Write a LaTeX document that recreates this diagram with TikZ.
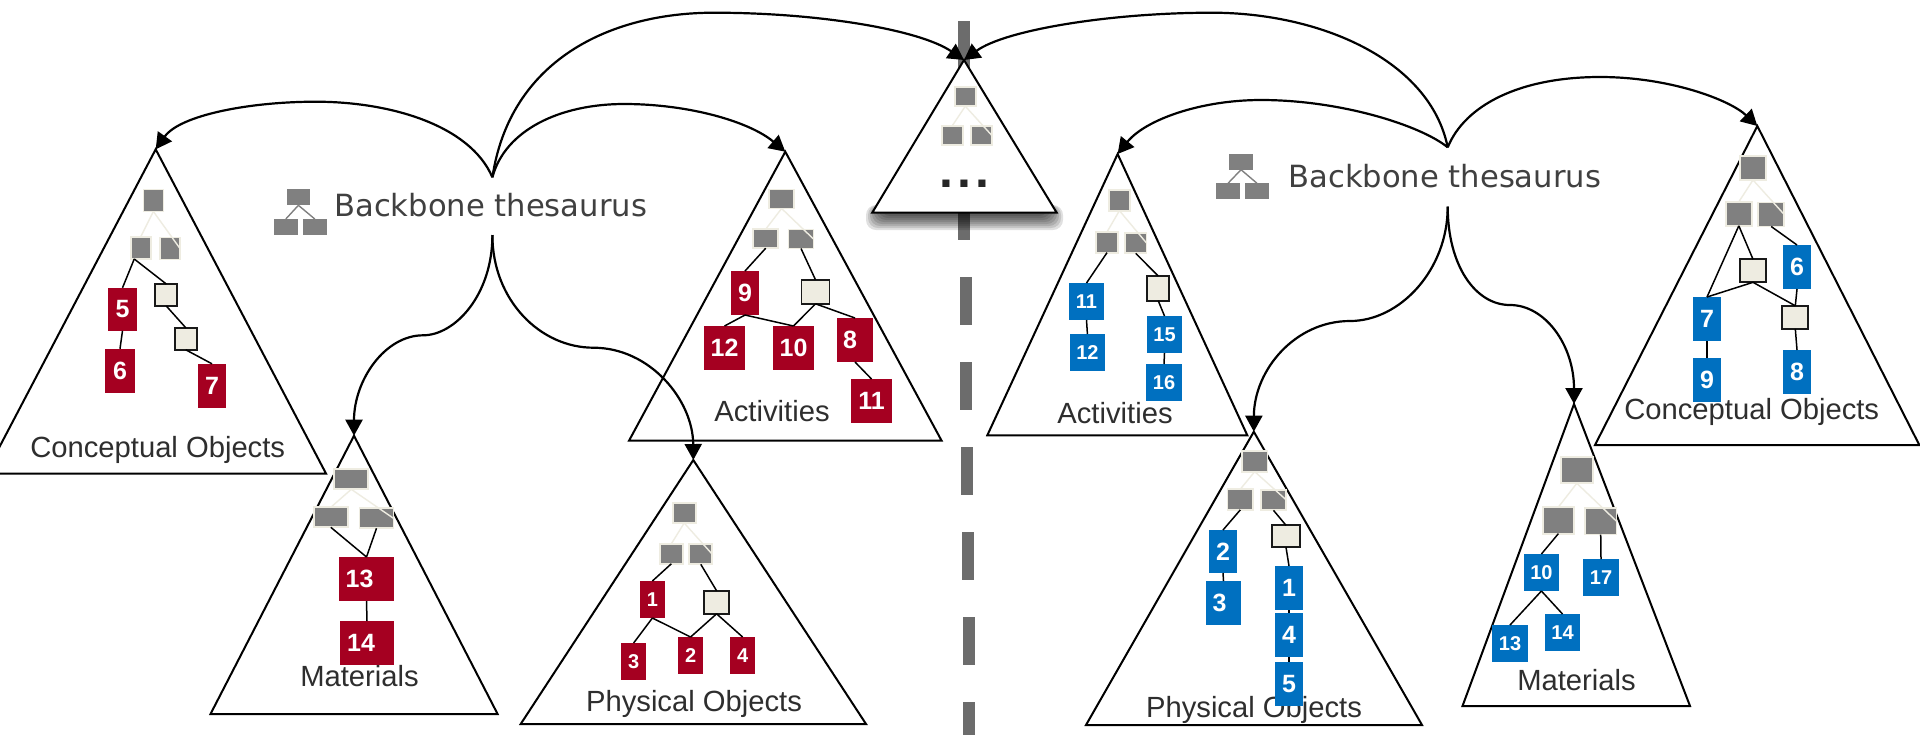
\documentclass[tikz,border=0pt]{standalone}
\usepackage{fontspec}
\setmainfont{Liberation Sans}
\newfontfamily\bbfont{DejaVu Sans}
\usetikzlibrary{arrows.meta}
\definecolor{redbox}{HTML}{A50021}
\definecolor{bluebox}{HTML}{0070C0}
\definecolor{paleline}{HTML}{EEECE1}
\definecolor{dashgray}{HTML}{6C6C6C}
\tikzset{
  sz/.style 2 args = {minimum width = #1*.5pt, minimum height = #2*.5pt},
  graybox/.style = {fill = gray, draw = paleline, line width = .9pt, shape = rectangle, inner sep = 0pt, outer sep = 0pt},
  palebox/.style = {fill = paleline, draw = black!90, line width = .9pt, shape = rectangle, inner sep = 0pt, outer sep = 0pt},
  redcell/.style = {fill = redbox, text = white, shape = rectangle, inner sep = 0pt, outer sep = 0pt, font = \fontsize{12.5}{14}\selectfont\bfseries},
  redsmall/.style = {redcell, font = \fontsize{10}{12}\selectfont\bfseries},
  bluecell/.style = {redcell, fill = bluebox},
  bluesmall/.style = {redsmall, fill = bluebox},
  tri/.style = {draw = black, fill = white, line width = 1pt, line join = miter},
  pale/.style = {draw = paleline, line width = .7pt},
  link/.style = {draw = black, line width = .75pt},
  arc/.style = {draw = black, line width = 1.1pt, -{Triangle[length = 8pt, width = 8.5pt]}},
  lab/.style = {anchor = base, inner sep = 0pt, text = black!82, font = \fontsize{14.6}{16}\selectfont},
  bb/.style = {anchor = base west, inner sep = 0pt, text = black!75, font = \fontsize{15.3}{17}\selectfont\bbfont},
  iconbox/.style = {fill = gray, shape = rectangle, inner sep = 0pt, outer sep = 0pt, sz = {23.5}{16}},
  iconline/.style = {draw = gray, line width = .7pt}
}
\begin{document}
\begin{tikzpicture}[x = .5pt, y = -.5pt]
\useasboundingbox (0,0) rectangle (1920,735);
\fill[dashgray] (958,21) rectangle (970,240);
\foreach \y in {277,362,447,532,617,702} {
  \fill[dashgray] (957.5+.0082*\y,\y) rectangle (969.5+.0082*\y,{min(\y+48,735)});
}
\foreach \b in {8,6,...,-6} {
  \fill[black, opacity = .12, rounded corners = 5pt] (874-\b,205) rectangle (1055+\b,222+\b);
}
\coordinate (cltop) at (155.7,149.3);
\coordinate (altop) at (785.3,151.7);
\coordinate (mltop) at (354,435.7);
\coordinate (pltop) at (693.3,460);
\coordinate (midtop) at (964,60);
\coordinate (artop) at (1117.6,154);
\coordinate (prtop) at (1253.8,431.7);
\coordinate (mrtop) at (1574,404);
\coordinate (crtop) at (1757.3,126);
\draw[tri] (cltop) -- (-14.5,473.5) -- (326,473.5) -- cycle;
\draw[tri] (altop) -- (629,440.7) -- (941.6,440.7) -- cycle;
\draw[tri] (mltop) -- (210.5,714) -- (497.6,714) -- cycle;
\draw[tri] (pltop) -- (520.7,724) -- (866,724) -- cycle;
\draw[tri] (midtop) -- (872.2,212.7) -- (1056.7,212.7) -- cycle;
\draw[tri] (artop) -- (987.3,435.3) -- (1247.3,435.3) -- cycle;
\draw[tri] (prtop) -- (1086,725) -- (1422,725) -- cycle;
\draw[tri] (mrtop) -- (1462.5,706) -- (1690,706) -- cycle;
\draw[tri] (crtop) -- (1595,445) -- (1919.3,445) -- cycle;

\node[lab] (cllab) at (157.7,457.3) {Conceptual Objects};
\node[lab] (allab) at (772,421.7) {Activities};
\node[lab] (mllab) at (359.5,686) {Materials};
\node[lab] (pllab) at (694,711) {Physical Objects};
\node[lab] (arlab) at (1115,423.3) {Activities};
\node[lab] (prlab) at (1254,717.7) {Physical Objects};
\node[lab] (mrlab) at (1576.5,690.7) {Materials};
\node[lab] (crlab) at (1751.7,419.3) {Conceptual Objects};
\node[anchor = base, inner sep = 0pt, text = black!85, font = \fontsize{25}{25}\selectfont\bfseries] (dots) at (964.4,187.7) {.\kern2.2pt.\kern2.2pt.};

\node[graybox, sz = {20}{22}] (cl0) at (153.4,200.5) {};
\node[graybox, sz = {20}{22}] (cl1) at (140.6,248) {};
\node[graybox, sz = {20}{22}] (cl2) at (170,248.5) {};
\node[redcell, sz = {29}{43}] (cl5) at (122.5,309.3) {5};
\node[redcell, sz = {30}{44}] (cl6) at (120,370.8) {6};
\node[redcell, sz = {28}{44}] (cl7) at (212,385.8) {7};
\node[palebox, sz = {22}{22}] (cla) at (166.3,295) {};
\node[palebox, sz = {22}{22}] (clb) at (185.8,338.8) {};
\draw[pale] (cl0.south) -- (cl1.north);
\draw[pale] (cl0.south) -- (cl2.east);
\draw[link] (cl1.240) -- (cl5.north);
\draw[link] (cl1.240) -- (cla.north);
\draw[link] (cl5.south) -- (cl6.north);
\draw[link] (cla.south) -- (clb.north);
\draw[link] (clb.south) -- (cl7.north);

\node[graybox, sz = {25}{19}] (al0) at (781.6,199) {};
\node[graybox, sz = {25}{19}] (al1) at (765.7,238.7) {};
\node[graybox, sz = {25}{19}] (al2) at (801,239) {};
\node[redcell, sz = {28}{44}] (al9) at (745,293) {9};
\node[palebox, sz = {28}{24}] (ala) at (815.5,291.8) {};
\node[redcell, sz = {41}{44}] (al12) at (724.5,348) {12};
\node[redcell, sz = {41}{44}] (al10) at (793.5,348) {10};
\node[redcell, sz = {36}{44}] (al8) at (855,340) {8\kern5pt};
\node[redcell, sz = {41}{44}] (al11) at (871.5,401) {11};
\draw[pale] (al0.south) -- (al1.north);
\draw[pale] (al0.south) -- (al2.east);
\draw[link] (al1.south) -- (al9.north);
\draw[link] (al2.south) -- (ala.north);
\draw[link] (al9.south) -- (al12.north);
\draw[link] (al9.south) -- (al10.north);
\draw[link] (ala.south) -- (al10.north);
\draw[link] (ala.south) -- (al8.north);
\draw[link] (al8.south) -- (al11.north);

\node[graybox, sz = {34}{20}] (ml0) at (351.3,479.3) {};
\node[graybox, sz = {34}{20}] (ml1) at (330.8,517.3) {};
\node[graybox, sz = {34}{20}] (ml2) at (376.5,518.3) {};
\node[redcell, sz = {55}{44}] (ml13) at (366.5,579) {13\kern7pt};
\node[redcell, sz = {54}{44}] (ml14) at (367,643) {14\kern6pt};
\draw[pale] (ml0.south) -- (ml1.north);
\draw[pale] (ml0.south) -- (ml2.east);
\draw[link] (ml1.south) -- (ml13.north);
\draw[link] (ml2.south) -- (ml13.north);
\draw[link] (ml13.south) -- (ml14.north);

\node[graybox, sz = {23}{20}] (pl0) at (684.2,513) {};
\node[graybox, sz = {23}{20}] (pl1) at (671.4,553.7) {};
\node[graybox, sz = {23}{20}] (pl2) at (700.8,554.3) {};
\node[redsmall, sz = {25}{37}] (pl1n) at (652.4,599.5) {1};
\node[palebox, sz = {25}{23}] (pla) at (716.6,602.3) {};
\node[redsmall, sz = {25}{37}] (pl3) at (633.6,661.5) {3};
\node[redsmall, sz = {25}{37}] (pl2n) at (690.6,655.5) {2};
\node[redsmall, sz = {25}{37}] (pl4) at (742.6,655.5) {4};
\draw[pale] (pl0.south) -- (pl1.north);
\draw[pale] (pl0.south) -- (pl2.east);
\draw[link] (pl1.south) -- (pl1n.north);
\draw[link] (pl2.south) -- (pla.north);
\draw[link] (pl1n.south) -- (pl3.north);
\draw[link] (pl1n.south) -- (pl2n.north);
\draw[link] (pla.south) -- (pl2n.north);
\draw[link] (pla.south) -- (pl4.north);

\node[graybox, sz = {21}{19}] (mid0) at (965.3,96.7) {};
\node[graybox, sz = {21}{19}] (mid1) at (952.2,135.3) {};
\node[graybox, sz = {21}{19}] (mid2) at (981.2,135.3) {};
\draw[pale] (mid0.south) -- (mid1.north);
\draw[pale] (mid0.south) -- (mid2.east);

\node[graybox, sz = {21.6}{20.7}] (ar0) at (1119.4,200.3) {};
\node[graybox, sz = {21.6}{20.7}] (ar1) at (1107,242.3) {};
\node[graybox, sz = {21.6}{20.7}] (ar2) at (1135.7,243) {};
\node[bluesmall, sz = {35}{37}] (ar11) at (1086.5,301.5) {11};
\node[bluesmall, sz = {35}{37}] (ar12) at (1087.4,352.5) {12};
\node[palebox, sz = {22}{24.7}] (ara) at (1158.2,288.3) {};
\node[bluesmall, sz = {35}{37}] (ar15) at (1164.5,334.5) {15};
\node[bluesmall, sz = {36}{37}] (ar16) at (1164,382.5) {16};
\draw[pale] (ar0.south) -- (ar1.north);
\draw[pale] (ar0.south) -- (ar2.east);
\draw[link] (ar1.south) -- (ar11.north);
\draw[link] (ar2.south) -- (ara.north);
\draw[link] (ar11.south) -- (ar12.north);
\draw[link] (ara.south) -- (ar15.north);
\draw[link] (ar15.south) -- (ar16.north);

\node[graybox, sz = {25.7}{20.7}] (pr0) at (1254.7,461.3) {};
\node[graybox, sz = {25.7}{20.7}] (pr1) at (1240.3,499.5) {};
\node[graybox, sz = {25.7}{20.7}] (pr2) at (1273.5,500) {};
\node[bluecell, sz = {28}{43}] (pr2n) at (1223,551.5) {2};
\node[bluecell, sz = {35}{44}] (pr3) at (1223.5,603) {3\kern4pt};
\node[palebox, sz = {28}{22}] (pra) at (1286,536.3) {};
\node[bluecell, sz = {28}{44}] (pr1n) at (1289,588) {1};
\node[bluecell, sz = {28}{44}] (pr4) at (1289,635) {4};
\node[bluecell, sz = {28}{44}] (pr5) at (1289,684) {5};
\draw[pale] (pr0.south) -- (pr1.north);
\draw[pale] (pr0.south) -- (pr2.east);
\draw[link] (pr1.south) -- (pr2n.north);
\draw[link] (pr2.south) -- (pra.north);
\draw[link] (pr2n.south) -- (pr3.north);
\draw[link] (pra.south) -- (pr1n.north);
\draw[link] (pr1n.south) -- (pr4.north);
\draw[link] (pr4.south) -- (pr5.north);

\node[graybox, sz = {31.6}{26.6}] (mr0) at (1576.8,470) {};
\node[graybox, sz = {31.6}{26.6}] (mr1) at (1558.4,520.3) {};
\node[graybox, sz = {31.6}{26.6}] (mr2) at (1600.7,521.2) {};
\node[bluesmall, sz = {35}{37}] (mr10) at (1541.4,572.5) {10};
\node[bluesmall, sz = {36}{37}] (mr17) at (1601,577.5) {17};
\node[bluesmall, sz = {36}{37}] (mr13) at (1510,643.5) {13};
\node[bluesmall, sz = {35}{37}] (mr14) at (1562.5,632.5) {14};
\draw[pale] (mr0.south) -- (mr1.north);
\draw[pale] (mr0.south) -- (mr2.east);
\draw[link] (mr1.south) -- (mr10.north);
\draw[link] (mr2.south) -- (mr17.north);
\draw[link] (mr10.south) -- (mr13.north);
\draw[link] (mr10.south) -- (mr14.north);

\node[graybox, sz = {26}{24}] (cr0) at (1753,168) {};
\node[graybox, sz = {26}{24}] (cr1) at (1738.8,213.8) {};
\node[graybox, sz = {26}{24}] (cr2) at (1771.2,214.5) {};
\node[palebox, sz = {26}{23}] (cra) at (1753,270.8) {};
\node[palebox, sz = {26}{23}] (crb) at (1795.3,317.3) {};
\node[bluecell, sz = {28}{44}] (cr6) at (1797,267) {6};
\node[bluecell, sz = {28}{44}] (cr7) at (1707,319) {7};
\node[bluecell, sz = {28}{44}] (cr9) at (1707,380) {9};
\node[bluecell, sz = {28}{44}] (cr8) at (1797,372) {8};
\draw[pale] (cr0.south) -- (cr1.north);
\draw[pale] (cr0.south) -- (cr2.east);
\draw[link] (cr1.south) -- (cr7.north);
\draw[link] (cr1.south) -- (cra.north);
\draw[link] (cr2.south) -- (cr6.north);
\draw[link] (cra.south) -- (cr7.north);
\draw[link] (cra.south) -- (crb.north);
\draw[link] (cr6.south) -- (crb.north);
\draw[link] (crb.south) -- (cr8.north);
\draw[link] (cr7.south) -- (cr9.north);

\node[bb] (bbl) at (334,216.7) {Backbone thesaurus};
\node[iconbox] (il0) at (298.4,197.3) {};
\node[iconbox] (il1) at (285.8,227) {};
\node[iconbox] (il2) at (314.8,227) {};
\draw[iconline] (il0.south) -- (il1.north);
\draw[iconline] (il0.south) -- (il2.north);
\node[bb] (bbr) at (1288,187.7) {Backbone thesaurus};
\node[iconbox] (ir0) at (1241,161.7) {};
\node[iconbox] (ir1) at (1228,191.3) {};
\node[iconbox] (ir2) at (1257,191.3) {};
\draw[iconline] (ir0.south) -- (ir1.north);
\draw[iconline] (ir0.south) -- (ir2.north);

\coordinate (hubla) at (492.4,177.3);
\coordinate (hublb) at (492.4,235);
\coordinate (hubra) at (1447.7,147.3);
\coordinate (hubrb) at (1447.7,206.7);
\draw[arc] (hubla) .. controls (470,125) and (390,101.7) .. (315.7,101.7) .. controls (250,101.7) and (180,115) .. (cltop);
\draw[arc] (hubla) .. controls (505,130) and (560,104) .. (624,104) .. controls (690,104) and (750,122) .. (altop);
\draw[arc] (hubla) .. controls (510,60) and (610,12.7) .. (714,12.7) .. controls (820,12.7) and (920,30) .. (midtop);
\draw[arc] (hublb) .. controls (492.4,295) and (455,335.3) .. (423,335.3) .. controls (385,335.3) and (354,380) .. (mltop);
\draw[arc] (hublb) .. controls (492.4,300) and (540,347.7) .. (593.4,347.7) .. controls (650,347.7) and (693,400) .. (pltop);
\draw[arc] (hubra) .. controls (1430,60) and (1320,12.7) .. (1212,12.7) .. controls (1110,12.7) and (1005,30) .. (midtop);
\draw[arc] (hubra) .. controls (1420,125) and (1340,100) .. (1261,100) .. controls (1200,100) and (1145,120) .. (artop);
\draw[arc] (hubra) .. controls (1465,105) and (1520,77) .. (1600,77) .. controls (1670,77) and (1730,100) .. (crtop);
\draw[arc] (hubrb) .. controls (1447.7,270) and (1400,321) .. (1350,321) .. controls (1295,321) and (1254,370) .. (prtop);
\draw[arc] (hubrb) .. controls (1447.7,265) and (1475,305) .. (1510,305) .. controls (1545,305) and (1574,345) .. (mrtop);
\end{tikzpicture}
\end{document}
